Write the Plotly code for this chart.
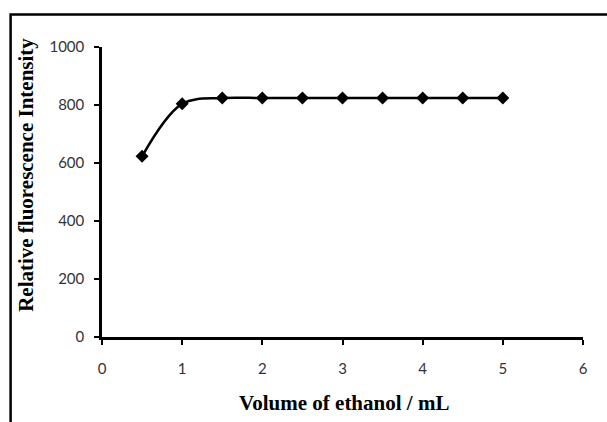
import plotly.graph_objects as go

volume = [0.5, 1, 1.5, 2, 2.5, 3, 3.5, 4, 4.5, 5]
intensity = [623, 804, 824, 824, 824, 824, 824, 824, 824, 824]
x_ticks = [0, 1, 2, 3, 4, 5, 6]
y_ticks = [0, 200, 400, 600, 800, 1000]
x_title = "Volume of ethanol / mL"
y_title = "Relative fluorescence Intensity"

fig = go.Figure()
fig.add_trace(go.Scatter(
    x=volume, y=intensity, mode="lines+markers",
    line=dict(color="black", width=2.5, shape="spline", smoothing=1.0),
    marker=dict(symbol="diamond", size=10, color="black"),
    showlegend=False,
))

W, H = 607, 422
ml, mr, mt, mb = 101.5, 24, 46.5, 85
pw, ph = W - ml - mr, H - mt - mb

tick_font = dict(family="Lato", size=15, color="#333")
title_font = dict(family="Liberation Serif", size=21, color="black")

fig.update_layout(
    width=W, height=H,
    margin=dict(l=ml, r=mr, t=mt, b=mb, autoexpand=False),
    paper_bgcolor="white", plot_bgcolor="white",
    font=dict(family="Lato", size=15, color="#333"),
    xaxis=dict(
        range=[0, 6], tickvals=x_ticks, showgrid=False, zeroline=False,
        showline=True, linecolor="black", linewidth=2.5,
        ticks="outside", ticklen=5, tickwidth=2, tickcolor="black",
        tickfont=tick_font, ticklabelstandoff=11,
    ),
    yaxis=dict(
        range=[0, 1000], tickvals=y_ticks, showgrid=False, zeroline=False,
        showline=True, linecolor="black", linewidth=2.5,
        ticks="outside", ticklen=5, tickwidth=2, tickcolor="black",
        tickfont=tick_font, ticklabelstandoff=7,
    ),
)

# axis titles
fig.add_annotation(text="<b>" + x_title + "</b>", xref="paper", yref="paper",
                   x=(344 - ml) / pw, y=(H - mb - 403) / ph,
                   showarrow=False, font=title_font,
                   xanchor="center", yanchor="middle")
fig.add_annotation(text="<b>" + y_title + "</b>", xref="paper", yref="paper",
                   x=(26 - ml) / pw, y=(H - mb - 175) / ph, textangle=-90,
                   showarrow=False, font=title_font,
                   xanchor="center", yanchor="middle")

# outer frame
fig.add_shape(type="rect", xref="paper", yref="paper",
              x0=(10 - ml) / pw, x1=(W + 20 - ml) / pw,
              y0=(H - 14 - mb - 500) / ph, y1=(H - 14 - mb) / ph,
              line=dict(color="black", width=2.5), layer="below")

fig.write_html("out.html", config={"displayModeBar": False})
with open("out.html", "r", encoding="utf-8") as f:
    html = f.read()
html = html.replace("<head>", "<head><style>html,body{margin:0;padding:0;overflow:hidden;}</style>", 1)
with open("out.html", "w", encoding="utf-8") as f:
    f.write(html)
